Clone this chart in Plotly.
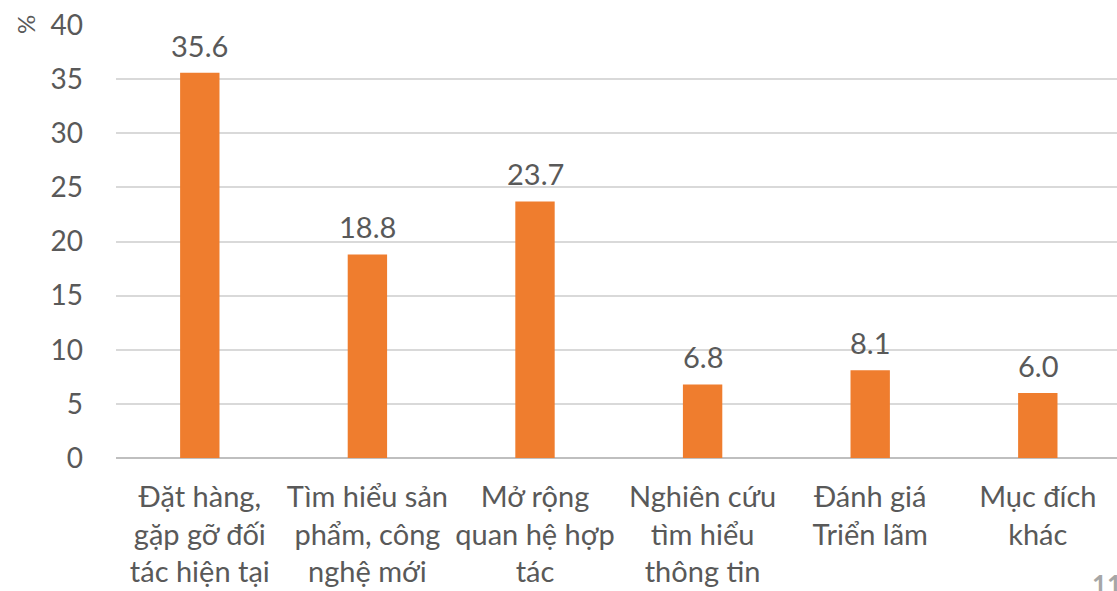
import plotly.graph_objects as go

categories = ["Đặt hàng,<br>gặp gỡ đối<br>tác hiện tại",
              "Tìm hiểu sản<br>phẩm, công<br>nghệ mới",
              "Mở rộng<br>quan hệ hợp<br>tác",
              "Nghiên cứu<br>tìm hiểu<br>thông tin",
              "Đánh giá<br>Triển lãm",
              "Mục đích<br>khác"]
values = [35.6, 18.8, 23.7, 6.8, 8.1, 6.0]
tick_vals = [0, 5, 10, 15, 20, 25, 30, 35, 40]

FONT = "Lato"
GRAY = "#595959"

L, R, T, B = 116, 0, 25, 133
W, H = 1117, 591
pw = W - L - R
ph = H - T - B
cat_px = 167.6  # pixel width of one category band in the reference

fig = go.Figure(go.Bar(
    x=categories, y=values,
    marker=dict(color="#EF7D2E", line=dict(width=0)),
    cliponaxis=False,
))

annots = [
    dict(x=c, y=v, xref="x", yref="y", text=f"{v:.1f}", showarrow=False,
         yanchor="bottom", yshift=8, font=dict(family=FONT, size=29, color=GRAY))
    for c, v in zip(categories, values)
]
annots += [
    dict(text="%", x=(25 - L) / pw, y=(H - B - 25) / ph, xref="paper", yref="paper",
         showarrow=False, textangle=-90, font=dict(family=FONT, size=24, color=GRAY),
         xanchor="center", yanchor="middle"),
    dict(text="<b>11</b>", x=(1090 - L) / pw, y=(H - B - 566) / ph, xref="paper", yref="paper",
         showarrow=False, xanchor="left", yanchor="top",
         font=dict(family=FONT, size=26, color="#A6A6A6")),
]

fig.update_layout(
    width=W, height=H,
    margin=dict(l=L, r=R, t=T, b=B, autoexpand=False),
    paper_bgcolor="white", plot_bgcolor="white",
    bargap=0.765,
    showlegend=False,
    font=dict(family=FONT, size=28, color=GRAY),
    xaxis=dict(tickfont=dict(family=FONT, size=29, color=GRAY), showgrid=False,
               showline=False, ticks="", automargin=False, ticklabelstandoff=19,
               ticklabeloverflow="allow", range=[-0.5, -0.5 + pw / cat_px]),
    yaxis=dict(range=[0, 40], tickvals=tick_vals, showgrid=True, gridcolor="#D9D9D9",
               gridwidth=1.5, zeroline=True, zerolinecolor="#BFBFBF", zerolinewidth=2,
               tickfont=dict(family=FONT, size=28, color=GRAY), ticks="",
               ticklabelstandoff=32, automargin=False, ticklabeloverflow="allow"),
    annotations=annots,
)

fig.write_html("out.html",
               config={"displayModeBar": False},
               post_script="document.body.style.margin='0';document.body.style.overflow='hidden';")
